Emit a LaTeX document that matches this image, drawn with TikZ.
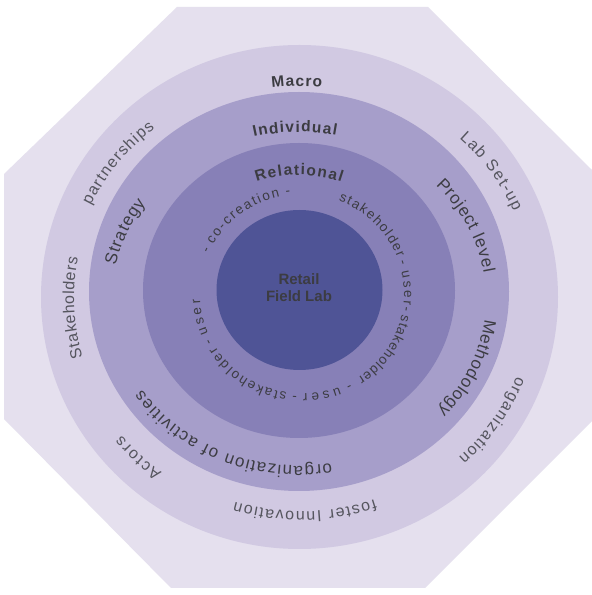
\documentclass[tikz,border=0pt]{standalone}
\usepackage{fontspec}
\setmainfont{Liberation Sans}
\usetikzlibrary{decorations.text}

\definecolor{octfill}{HTML}{E5E0EE}
\definecolor{macrofill}{HTML}{D1C9E2}
\definecolor{indivfill}{HTML}{A69ECA}
\definecolor{relfill}{HTML}{8780B7}
\definecolor{corefill}{HTML}{4F5496}
\definecolor{labeldark}{HTML}{3C3C42}
\definecolor{labelgray}{HTML}{55555E}

% fonts used for the curved labels
\newcommand{\boldlbl}{\fontsize{15.5}{17}\selectfont\bfseries\color{labeldark}}
\newcommand{\outerlbl}{\fontsize{16}{18}\selectfont\color{labelgray}}
\newcommand{\midlbl}{\fontsize{17}{19}\selectfont\color{labeldark}}
\newcommand{\innerlbl}{\fontsize{13.5}{15}\selectfont\color{labeldark}}

% text set clockwise on an elliptic arc, letters standing outward
% #1 centre, #2 x radius, #3 y radius, #4 start angle, #5 end angle, #6 font, #7 text
\newcommand{\ringtext}[7]{%
  \path[shift={#1}, decorate,
        decoration={text along path, text align=fit to path, text={|#6|#7}}]
    (#4:#2 and #3) arc[start angle=#4, end angle=#5, x radius=#2, y radius=#3];}

% a single separator dash on an elliptic arc
% #1 name, #2 centre, #3 x radius, #4 y radius, #5 angle
\newcommand{\ringdash}[5]{%
  \path[shift={#2}] (#5:#3 and #4)
    node[dashlbl, rotate=#5-90] (#1) {-};}

\tikzset{
  dashlbl/.style={inner sep=0pt, anchor=base, font=\innerlbl},
  corelbl/.style={align=center, inner sep=0pt, text=labeldark,
                  font=\fontsize{15}{17}\selectfont\bfseries}
}

\begin{document}
\begin{tikzpicture}[x=1pt, y=1pt]
  \useasboundingbox (0,0) rectangle (592,595);
  \fill[white] (0,0) rectangle (592,595);

  % octagonal backdrop
  \fill[octfill] (177,588) -- (428,588) -- (592,425) -- (592,174)
    -- (425,7) -- (171,7) -- (4,176) -- (4,421) -- cycle;

  % nested rings
  \fill[macrofill] (299.5,298) ellipse[x radius=258.5, y radius=252];
  \fill[indivfill] (299,303.5) ellipse[x radius=210, y radius=199.5];
  \fill[relfill]   (299,304.5) ellipse[x radius=156, y radius=147.5];
  \fill[corefill]  (299.5,305) ellipse[x radius=83, y radius=80];

  % centre
  \node[corelbl] (core) at (299,307.5) {Retail\\Field Lab};

  % outer ring
  \ringtext{(301,296.5)}{226}{212.5}{97.4}{84.7}{\boldlbl}{Macro}
  \ringtext{(301,296.5)}{232}{219}{155}{129}{\outerlbl}{partnerships}
  \ringtext{(301,296.5)}{232}{219}{47}{23.5}{\outerlbl}{Lab Set-up}
  \ringtext{(301,296.5)}{227}{213}{196}{169}{\outerlbl}{Stakeholders}
  \ringtext{(301,296.5)}{231}{218}{-21}{-47}{\outerlbl}{organization}
  \ringtext{(301,296.5)}{226}{213}{-71}{-107}{\outerlbl}{foster Innovation}
  \ringtext{(301,296.5)}{231}{218}{-127}{-141}{\outerlbl}{Actors}

  % second ring
  \ringtext{(299,296)}{187}{167}{104}{78.5}{\boldlbl}{Individual}
  \ringtext{(299,296)}{187}{167}{168.5}{145}{\midlbl}{Strategy}
  \ringtext{(299,296)}{187}{167}{43}{9}{\midlbl}{Project level}
  \ringtext{(299,296)}{187}{167}{-7}{-42}{\midlbl}{Methodology}
  \ringtext{(299,296)}{187}{167}{-80}{-147}{\midlbl}{organization of activities}

  % third ring
  \ringtext{(299,304)}{124}{116}{110}{70}{\boldlbl}{Relational}
  \ringdash{s1}{(302,301)}{102}{100}{155}
  \ringtext{(302,301)}{102}{100}{150.5}{102.5}{\innerlbl}{co-creation}
  \ringdash{s2}{(302,301)}{102}{100}{97.7}
  \ringtext{(302,301)}{102}{100}{69}{21}{\innerlbl}{stakeholder}
  \ringdash{s3}{(302,301)}{102}{100}{17.5}
  \ringtext{(302,301)}{102}{100}{13}{-10}{\innerlbl}{user-}
  \ringtext{(302,301)}{102}{100}{-12}{-57}{\innerlbl}{stakeholder}
  \ringdash{s4}{(302,301)}{102}{100}{-63.4}
  \ringtext{(302,301)}{102}{100}{-68.5}{-89.5}{\innerlbl}{user}
  \ringdash{s5}{(302,301)}{102}{100}{-94}
  \ringtext{(302,301)}{102}{100}{-98.5}{-148}{\innerlbl}{stakeholder}
  \ringdash{s6}{(302,301)}{102}{100}{-152}
  \ringtext{(302,301)}{102}{100}{-157}{-177}{\innerlbl}{user}
\end{tikzpicture}
\end{document}
